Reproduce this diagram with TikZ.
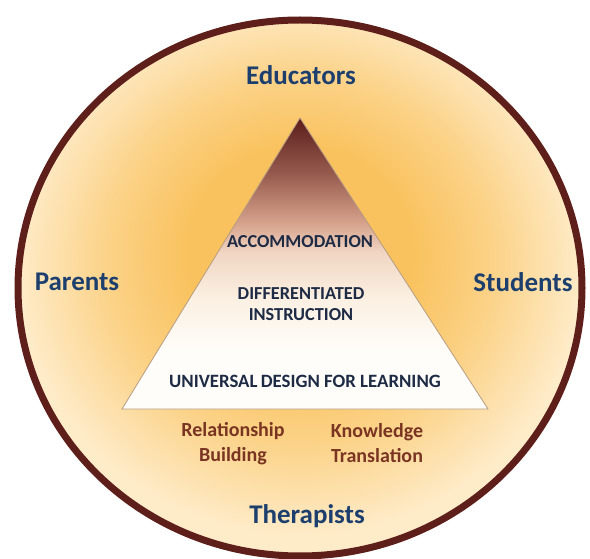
\documentclass[tikz,border=0pt]{standalone}
\usepackage{fontspec}
\setmainfont{Carlito}
\definecolor{rim}{HTML}{5E1F1A}
\definecolor{navy}{HTML}{1C3F6E}
\definecolor{tritext}{HTML}{1E2B45}
\definecolor{brownlab}{HTML}{7A3422}
\definecolor{bgin}{HTML}{F9C25E}
\definecolor{bgmid}{HTML}{FBD287}
\definecolor{bgout}{HTML}{FEEBC8}
\definecolor{tA}{HTML}{5A1D1C}
\definecolor{tB}{HTML}{9A5E50}
\definecolor{tC}{HTML}{D6A28C}
\definecolor{tD}{HTML}{F0D5C2}
\definecolor{tE}{HTML}{FBF0E2}
\definecolor{tF}{HTML}{FFFDF9}
\pgfdeclareradialshading{bgshade}{\pgfpoint{0bp}{4bp}}{color(0bp)=(bgin); color(10bp)=(bgin); color(17bp)=(bgmid); color(25bp)=(bgout); color(50bp)=(bgout)}
\pgfdeclareverticalshading{trishade}{100bp}{color(0bp)=(tF); color(25bp)=(tF); color(35bp)=(tF); color(44bp)=(tE); color(52bp)=(tD); color(57bp)=(tC); color(65bp)=(tB); color(75bp)=(tA); color(100bp)=(tA)}
\tikzset{
  outerlab/.style={text=navy, font=\bfseries\fontsize{27}{31}\selectfont, inner sep=0pt},
  trilab/.style={text=tritext, font=\bfseries\fontsize{18.3}{21.5}\selectfont, inner sep=0pt, align=center},
  brownl/.style={text=brownlab, font=\bfseries\fontsize{20}{25}\selectfont, inner sep=0pt, align=center},
}
\begin{document}
\begin{tikzpicture}[x=1pt,y=1pt]
\useasboundingbox (0,0) rectangle (590,-559);
\fill[white] (0,0) rectangle (590,-559);
% outer disc
\shade[shading=bgshade] (300,-288) ellipse [x radius=282, y radius=268];
\draw[rim, line width=7pt] (300,-288) ellipse [x radius=282, y radius=268];
% pyramid
\coordinate (apex) at (300,-118);
\coordinate (bl) at (122,-409);
\coordinate (br) at (488,-409);
\shade[shading=trishade] (apex) -- (br) -- (bl) -- cycle;
\draw[draw=brown!70!black!60, line width=0.8pt, line join=miter] (apex) -- (br) -- (bl) -- cycle;
% pyramid labels
\node[trilab] (acc) at (300,-242) {ACCOMMODATION};
\node[trilab] (diff) at (301,-304) {DIFFERENTIATED\\[-1pt]INSTRUCTION};
\node[trilab, font=\bfseries\fontsize{18.8}{22}\selectfont] (udl) at (305,-381) {UNIVERSAL\kern-1pt\ DESIGN FOR LEARNING};
% outer labels
\node[outerlab] (edu) at (301,-75) {Educators};
\node[outerlab] (par) at (77,-282) {Parents};
\node[outerlab] (stu) at (523,-282) {Students};
\node[outerlab] (ther) at (307,-516) {Therapists};
% brown labels
\node[brownl] (rel) at (233,-444) {Relationship\\Building};
\node[brownl] (kno) at (377,-443) {Knowledge\\Translation};
\end{tikzpicture}
\end{document}
